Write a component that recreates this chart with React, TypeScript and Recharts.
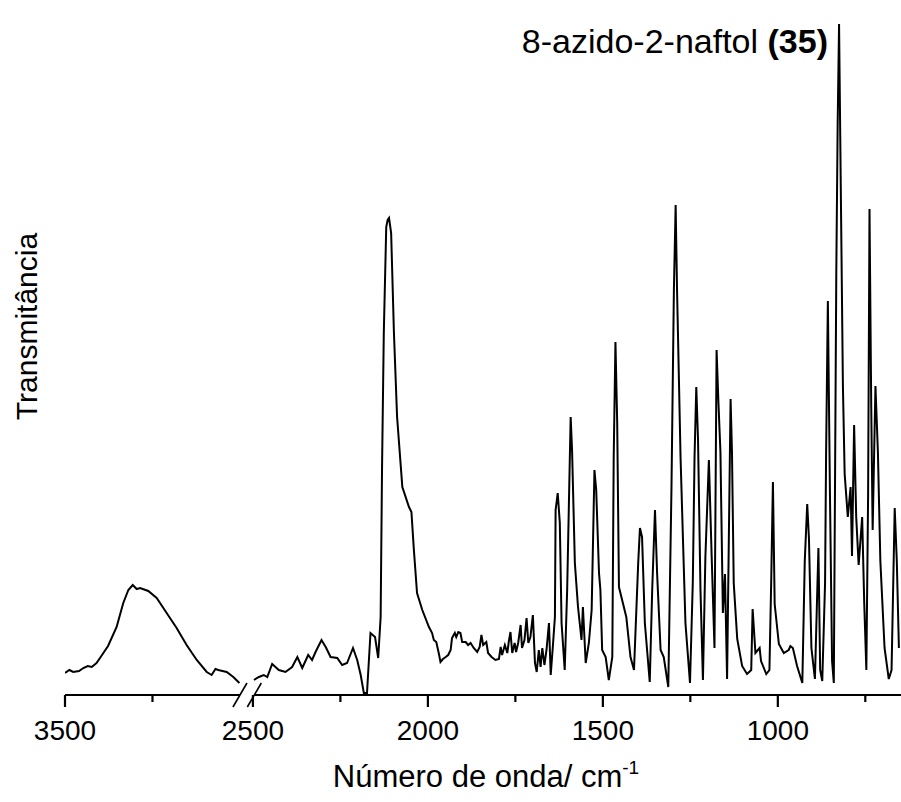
import React from 'react';
import { LineChart, Line, XAxis, YAxis, ReferenceLine } from 'recharts';

// ---------- data (wavenumber in cm-1, transmittance in arbitrary units) ----------
const LEFT_WN = [3500, 3475, 3453, 3420, 3395, 3370, 3347, 3320, 3300, 3254, 3205, 3167, 3138, 3113, 3090, 3071, 3024, 2976, 2919, 2862, 2805, 2747, 2690, 2662, 2640, 2624, 2600, 2576, 2538, 2503];
const LEFT_T = [2.2, 2.5, 2.3, 2.4, 2.7, 2.9, 2.8, 3.2, 3.7, 4.9, 6.8, 9.2, 10.5, 11.0, 10.6, 10.7, 10.4, 9.7, 8.2, 6.7, 5.0, 3.5, 2.3, 2.0, 2.6, 2.5, 2.4, 2.3, 1.8, 1.2];

const RIGHT_WN = [
  2497, 2483, 2469, 2459, 2445, 2426, 2407, 2388, 2373, 2359, 2342, 2331, 2321, 2304, 2292, 2278, 2259, 2245, 2231, 2214,
  2202, 2192, 2183, 2174, 2164, 2151, 2142, 2135, 2131, 2126, 2119, 2115, 2111, 2105, 2097, 2088, 2073, 2054, 2047, 2040,
  2031, 2016, 1997, 1988, 1983, 1976, 1969, 1964, 1957, 1949, 1942, 1935, 1931, 1923, 1919, 1913, 1907, 1902, 1892, 1885,
  1878, 1869, 1859, 1852, 1847, 1842, 1833, 1828, 1818, 1807, 1797, 1792, 1788, 1780, 1773, 1769, 1764, 1759, 1752, 1748,
  1742, 1735, 1731, 1724, 1718, 1713, 1707, 1700, 1694, 1689, 1683, 1678, 1673, 1667, 1661, 1654, 1649, 1643, 1637, 1635,
  1629, 1623, 1618, 1609, 1602, 1592, 1588, 1580, 1571, 1561, 1557, 1549, 1540, 1532, 1524, 1519, 1511, 1507, 1502, 1492,
  1483, 1473, 1469, 1464, 1459, 1454, 1440, 1433, 1421, 1411, 1399, 1394, 1388, 1380, 1366, 1359, 1351, 1345, 1335, 1326,
  1313, 1304, 1297, 1292, 1288, 1278, 1264, 1251, 1243, 1238, 1233, 1228, 1221, 1214, 1207, 1197, 1189, 1181, 1175, 1170,
  1164, 1157, 1151, 1145, 1140, 1135, 1131, 1126, 1116, 1102, 1088, 1076, 1072, 1064, 1052, 1048, 1033, 1024, 1019, 1014,
  1009, 997, 983, 969, 964, 957, 945, 930, 923, 916, 911, 904, 894, 884, 879, 873, 865, 862, 857, 851,
  845, 840, 833, 829, 825, 820, 814, 809, 800, 792, 788, 782, 776, 769, 759, 753, 747, 742, 738, 733,
  729, 721, 714, 707, 695, 683, 675, 666, 660, 654,
];
const RIGHT_T = [
  1.5, 1.8, 2.0, 1.8, 3.1, 2.5, 2.3, 2.8, 3.8, 2.7, 4.0, 3.5, 4.3, 5.5, 4.8, 3.8, 3.7, 3.0, 3.2, 4.7,
  3.5, 2.0, 0.2, 0.2, 6.2, 5.8, 3.7, 7.8, 22.8, 36.2, 46.8, 47.5, 47.7, 46.2, 36.2, 27.8, 20.8, 18.8, 18.3, 14.5,
  10.2, 8.5, 6.8, 6.2, 5.5, 5.3, 4.2, 3.3, 3.6, 3.8, 4.0, 4.5, 5.7, 6.2, 5.8, 6.3, 6.2, 5.3, 5.3, 5.0,
  5.2, 4.7, 4.3, 4.8, 6.0, 5.0, 5.3, 4.2, 3.8, 3.5, 3.6, 4.8, 4.0, 5.0, 4.2, 5.3, 6.3, 4.2, 5.2, 4.3,
  5.2, 7.0, 4.7, 5.5, 7.7, 5.2, 5.8, 8.0, 3.2, 2.3, 4.5, 2.8, 4.7, 3.0, 4.5, 7.2, 2.0, 4.8, 7.8, 18.5,
  20.2, 17.2, 7.2, 2.5, 10.5, 27.8, 24.5, 13.2, 8.8, 5.5, 8.8, 3.2, 5.2, 8.5, 22.5, 20.5, 12.2, 10.5, 4.5, 3.8,
  1.5, 3.8, 23.8, 35.3, 27.2, 10.8, 8.8, 7.8, 3.8, 2.5, 13.2, 16.7, 15.8, 7.2, 1.3, 10.5, 18.5, 12.2, 4.5, 3.8,
  0.8, 20.5, 40.5, 49.0, 40.5, 23.8, 7.2, 1.2, 11.2, 23.8, 30.8, 25.5, 10.5, 1.5, 13.8, 23.5, 13.8, 4.7, 34.5, 29.5,
  24.3, 8.2, 12.1, 1.6, 15.6, 29.6, 24.3, 11.2, 5.6, 2.9, 2.1, 2.5, 8.6, 4.2, 4.7, 3.4, 2.1, 2.5, 11.2, 21.3,
  9.1, 5.1, 4.2, 4.5, 4.9, 4.7, 2.9, 1.2, 13.4, 19.1, 15.6, 4.7, 1.6, 14.7, 2.5, 1.4, 11.2, 24.3, 39.4, 20.0,
  3.4, 1.2, 41.8, 57.1, 67.1, 50.5, 30.9, 22.1, 17.8, 20.8, 13.9, 27.0, 17.8, 13.0, 17.8, 9.1, 2.5, 20.0, 48.6, 28.7,
  16.5, 30.9, 24.3, 13.4, 4.7, 1.6, 2.5, 18.7, 13.4, 4.7,
];

const MAJOR_TICKS = [3500, 2500, 2000, 1500, 1000];
const MINOR_TICKS = [3000, 2250, 1750, 1250, 750];

// ---------- broken-axis mapping ----------
const START_WN = 3500;
const BREAK_WN = 2500;
const LEFT_COMPRESS = 0.5;
const GAP = 37;
const X_MAX_U = 2389;
const Y_MAX = 68.3;

const toU = (wn: number, side: 'left' | 'right') =>
  side === 'left'
    ? (START_WN - wn) * LEFT_COMPRESS
    : (START_WN - BREAK_WN) * LEFT_COMPRESS + GAP + (BREAK_WN - wn);
const sideOf = (wn: number): 'left' | 'right' => (wn > BREAK_WN ? 'left' : 'right');

const leftData = LEFT_WN.map((wn, i) => ({ u: toU(wn, 'left'), t: LEFT_T[i] }));
const rightData = RIGHT_WN.map((wn, i) => ({ u: toU(wn, 'right'), t: RIGHT_T[i] }));

const tickDefs = [
  ...MAJOR_TICKS.map((wn) => ({ wn, major: true })),
  ...MINOR_TICKS.map((wn) => ({ wn, major: false })),
].map((d) => ({ ...d, u: toU(d.wn, sideOf(d.wn)) }));
const tickU = tickDefs.map((d) => d.u).sort((a, b) => a - b);

const FONT = '"Liberation Sans", Arial, Helvetica, sans-serif';
const MAJOR_LEN = 12;
const MINOR_LEN = 7;
const TICK_COLOR = '#000000';

const renderTick = (props: any) => {
  const { x, y, payload } = props;
  const def = tickDefs.find((d) => Math.abs(d.u - payload.value) < 0.01);
  if (!def) return <g />;
  const len = def.major ? MAJOR_LEN : MINOR_LEN;
  return (
    <g>
      <rect x={x - 1.1} y={y} width={2.2} height={len} fill={TICK_COLOR} />
      {def.major ? (
        <text x={x} y={y + 45} textAnchor="middle" fontSize={28} fontFamily={FONT} fill="#000">
          {def.wn}
        </text>
      ) : null}
    </g>
  );
};

const leftEndU = toU(BREAK_WN, 'left');
const rightStartU = toU(BREAK_WN, 'right');
const SL_DU = 20;
const SL_DT = 1.2;

export default function App() {
  return (
    <div style={{ position: 'absolute', left: 0, top: 0, width: 901, height: 802, background: '#fff' }}>
      <LineChart width={901} height={802} margin={{ top: 12, right: 0, bottom: 0, left: 65 }}>
        <XAxis
          type="number"
          dataKey="u"
          domain={[0, X_MAX_U]}
          allowDataOverflow
          ticks={tickU}
          interval={0}
          tick={renderTick}
          tickSize={0}
          tickMargin={0}
          tickLine={false}
          axisLine={false}
          height={107}
        />
        <YAxis
          type="number"
          domain={[0, Y_MAX]}
          allowDataOverflow
          tick={false}
          tickLine={false}
          axisLine={{ stroke: '#000', strokeWidth: 2.2 }}
          width={0}
        />
        <ReferenceLine segment={[{ x: 0, y: 0 }, { x: leftEndU, y: 0 }]} stroke="#000" strokeWidth={2.2} ifOverflow="visible" />
        <ReferenceLine segment={[{ x: rightStartU + 4, y: 0 }, { x: X_MAX_U, y: 0 }]} stroke="#000" strokeWidth={2.2} ifOverflow="visible" />
        <ReferenceLine
          segment={[{ x: leftEndU - SL_DU, y: -SL_DT }, { x: leftEndU + SL_DU, y: SL_DT }]}
          stroke="#000"
          strokeWidth={1.6}
          ifOverflow="visible"
        />
        <ReferenceLine
          segment={[{ x: rightStartU + 4 - SL_DU, y: -SL_DT }, { x: rightStartU + 4 + SL_DU, y: SL_DT }]}
          stroke="#000"
          strokeWidth={1.6}
          ifOverflow="visible"
        />
        <Line data={leftData} dataKey="t" type="linear" stroke="#000" strokeWidth={2} dot={false} isAnimationActive={false} />
        <Line data={rightData} dataKey="t" type="linear" stroke="#000" strokeWidth={2} dot={false} isAnimationActive={false} />
      </LineChart>
      <svg width={901} height={802} style={{ position: 'absolute', left: 0, top: 0, pointerEvents: 'none' }}>
        <text x={828} y={53} textAnchor="end" fontSize={34} fontFamily={FONT} fill="#000">
          8-azido-2-naftol <tspan fontWeight="bold">(35)</tspan>
        </text>
        <text x={486} y={787} textAnchor="middle" fontSize={31} fontFamily={FONT} fill="#000">
          Número de onda/ cm<tspan fontSize={19} dy={-13}>-1</tspan>
        </text>
        <text transform="translate(37, 326.5) rotate(-90)" textAnchor="middle" fontSize={30} fontFamily={FONT} fill="#000">
          Transmitância
        </text>
      </svg>
    </div>
  );
}
